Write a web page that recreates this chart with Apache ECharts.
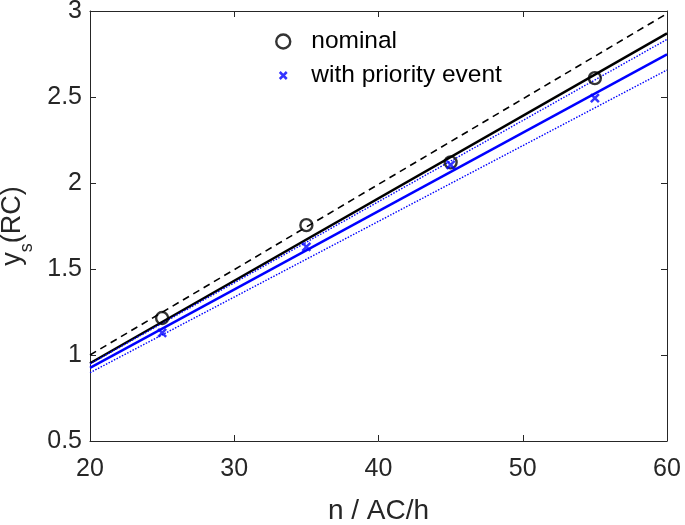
<!DOCTYPE html>
<html><head><meta charset="utf-8">
<script src="https://cdn.jsdelivr.net/npm/echarts@6/dist/echarts.min.js"></script>
<style>html,body{margin:0;padding:0;background:#fff}#c{width:685px;height:525px}</style>
</head><body><div id="c"></div>
<script>
// Data
var xTicks = [20, 30, 40, 50, 60];
var yTicks = [0.5, 1, 1.5, 2, 2.5, 3];
var nX = [25, 35, 45, 55];
var nominalY = [1.215, 1.755, 2.12, 2.61];
var priorityY = [1.128, 1.628, 2.105, 2.494];
var fitX = [20, 60];
var nominalDashed = [1.0, 2.985];
var nominalFit = [0.952, 2.870];
var priorityFit = [0.925, 2.748];
var priorityUpper = [0.948, 2.835];
var priorityLower = [0.897, 2.657];

function pairs(xs, ys){ return xs.map(function(x,i){return [x, ys[i]];}); }

var axisCol = '#262626';
var font = 'Liberation Sans, Arial, sans-serif';
var chart = echarts.init(document.getElementById('c'));
function lineSeries(name, ys, color, type, width){
  return {name:name, type:'line', data:pairs(fitX, ys), showSymbol:false, symbol:'none',
    lineStyle:{color:color, type:type, width:width}, silent:true, z:2, animation:false};
}
var crossIcon = 'path://M-5,-5M15,15M0,0L10,10M10,0L0,10';
chart.setOption({
  animation:false,
  grid:{left:90, top:11, width:577, height:430, containLabel:false, outerBoundsMode:'none'},
  legend:{
    left:270, top:24, orient:'vertical', itemGap:9, itemWidth:14, itemHeight:14,
    textStyle:{fontSize:24.5, color:'#000', fontFamily:font, padding:[0,0,0,16]},
    data:[
      {name:'nominal', icon:'circle', itemStyle:{color:'#fff', borderColor:'#000', borderWidth:2.4}},
      {name:'with priority event', icon:crossIcon, itemStyle:{color:'#0000ff', borderColor:'#0000ff', borderWidth:2.5}}
    ]
  },
  xAxis:[{
    type:'value', min:20, max:60, interval:10,
    name:'n / AC/h', nameLocation:'middle', nameGap:56,
    nameTextStyle:{fontSize:28, color:axisCol, fontFamily:font},
    axisLine:{show:true, lineStyle:{color:axisCol, width:1}},
    axisTick:{show:true, inside:true, length:6, lineStyle:{color:axisCol}},
    axisLabel:{fontSize:25, color:axisCol, fontFamily:font, margin:16},
    splitLine:{show:false}
  },{
    type:'value', min:20, max:60, interval:10, position:'top',
    axisLine:{show:true, lineStyle:{color:axisCol, width:1}},
    axisTick:{show:true, inside:true, length:6, lineStyle:{color:axisCol}},
    axisLabel:{show:false}, splitLine:{show:false}
  }],
  yAxis:[{
    type:'value', min:0.5, max:3, interval:0.5,
    name:'{a|y}{s|s}{a|(RC)}', nameLocation:'middle', nameGap:58, nameRotate:90,
    nameTextStyle:{color:axisCol, fontFamily:font, rich:{
      a:{fontSize:27, color:axisCol, fontFamily:font},
      s:{fontSize:18, color:axisCol, fontFamily:font, verticalAlign:'bottom', padding:[0,0,-10,0]}
    }},
    axisLine:{show:true, lineStyle:{color:axisCol, width:1}},
    axisTick:{show:true, inside:true, length:6, lineStyle:{color:axisCol}},
    axisLabel:{fontSize:25, color:axisCol, fontFamily:font, margin:8},
    splitLine:{show:false}
  },{
    type:'value', min:0.5, max:3, interval:0.5, position:'right',
    axisLine:{show:true, lineStyle:{color:axisCol, width:1}},
    axisTick:{show:true, inside:true, length:6, lineStyle:{color:axisCol}},
    axisLabel:{show:false}, splitLine:{show:false}
  }],
  series:[
    lineSeries('dashed', nominalDashed, '#000', [7,5], 1.6),
    lineSeries('fitN', nominalFit, '#000', 'solid', 2.4),
    lineSeries('upper', priorityUpper, '#0000ff', [1.5,1.5], 1.4),
    lineSeries('lower', priorityLower, '#0000ff', [1.5,1.5], 1.4),
    lineSeries('fitP', priorityFit, '#0000ff', 'solid', 2.4),
    {name:'nominal', type:'scatter', data:pairs(nX, nominalY), symbol:'circle', symbolSize:12,
      itemStyle:{color:'rgba(255,255,255,0)', borderColor:'#000', borderWidth:2.4}, z:5},
    {name:'with priority event', type:'scatter', data:pairs(nX, priorityY),
      symbol:'path://M0,0L10,10M10,0L0,10', symbolSize:8,
      itemStyle:{color:'#0000ff', borderColor:'#0000ff', borderWidth:2.5}, z:5}
  ]
});
</script></body></html>
